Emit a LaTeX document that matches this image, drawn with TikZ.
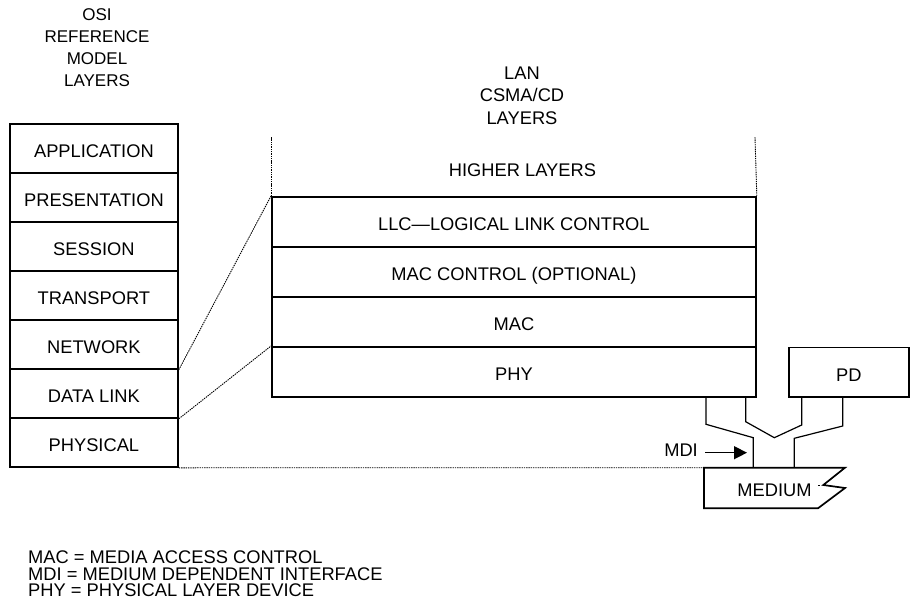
\documentclass[tikz,border=0pt]{standalone}
\usepackage{fontspec}
\setmainfont{Liberation Sans}
\usetikzlibrary{arrows.meta}

\begin{document}
\begin{tikzpicture}[x=1pt,y=-1pt,
  txt/.style={font=\fontsize{18.3}{22.6}\selectfont, inner sep=0pt},
  layerbox/.style={txt, draw, line width=1.8pt, anchor=north west,
    text height=18pt, text depth=0pt},
  osirow/.style={layerbox, minimum width=168pt, minimum height=49pt},
  lanrow/.style={layerbox, minimum width=484pt, minimum height=50pt},
  dotline/.style={line width=0.9pt, dash pattern=on 1.4pt off 0.9pt},
  cable/.style={line width=1.2pt, line join=miter},
  mdiarrow/.style={line width=1.4pt, -{Triangle[length=13pt,width=13pt]}}
]
\useasboundingbox (0,0) rectangle (911,610);

% --- OSI reference model column ---
\node[txt, font=\fontsize{17}{21.9}\selectfont, align=center, anchor=north]
  (osititle) at (97,8.5) {OSI\\REFERENCE\\MODEL\\LAYERS};
\node[osirow] (osi1) at (9,123) {APPLICATION};
\node[osirow] (osi2) at (9,172) {PRESENTATION};
\node[osirow] (osi3) at (9,221) {SESSION};
\node[osirow] (osi4) at (9,270) {TRANSPORT};
\node[osirow] (osi5) at (9,319) {NETWORK};
\node[osirow] (osi6) at (9,368) {DATA LINK};
\node[osirow] (osi7) at (9,417) {PHYSICAL};

% --- LAN CSMA/CD column ---
\node[txt, align=center, anchor=north] (lantitle) at (522,66.5) {LAN\\CSMA/CD\\LAYERS};
\node[txt, anchor=base] (higher) at (522.5,176.7) {HIGHER LAYERS};
\node[lanrow] (lan1) at (271,196) {LLC\textemdash LOGICAL LINK CONTROL};
\node[lanrow] (lan2) at (271,246) {MAC CONTROL (OPTIONAL)};
\node[lanrow] (lan3) at (271,296) {MAC};
\node[lanrow] (lan4) at (271,346) {PHY};

% open sides of the higher layers
\coordinate (hlleft) at (271,137);
\coordinate (hlright) at (755,137);
\draw[dotline] (lan1.north west) -- (hlleft);
\draw[dotline] (lan1.north east) -- (hlright);

% --- powered device ---
\node[layerbox, minimum width=120pt, minimum height=49.5pt] (pd) at (788,346.5) {PD};

% --- medium ---
\coordinate (medtl) at (704,467.7);
\coordinate (medtr) at (845,467.7);
\draw[line width=1.7pt, line join=miter] (medtl) -- (medtr) -- (823.3,485) -- (845,488)
  -- (818,508.3) -- (704,508.3) -- cycle;
\draw[line width=0.8pt] (818.3,485) -- (820,485);
\node[txt, anchor=base] (medium) at (774.5,496) {MEDIUM};

% --- cabling from the PHY and the PD down to the medium ---
\coordinate (ca1) at (706,396);
\coordinate (ca2) at (745.7,396);
\coordinate (cb1) at (801.7,396);
\coordinate (cb2) at (842.7,396);
\coordinate (ma) at (753.3,467.7);
\coordinate (mb) at (794.3,467.7);
\draw[cable] (ca1) -- (706,424.3) -- (753.3,437.7) -- (ma);
\draw[cable] (ca2) -- (745.7,421.7) -- (774.3,437.7) -- (801.7,425) -- (cb1);
\draw[cable] (cb2) -- (842.7,426) -- (794.3,438.3) -- (mb);

% --- MDI marker ---
\node[txt, anchor=base east] (mdi) at (698,456.7) {MDI};
\coordinate (mditip) at (747,452.7);
\draw[mdiarrow] ([shift={(7,-4)}]mdi.base east) -- (mditip);

% --- correspondence between the two columns ---
\draw[dotline] (osi5.south east) -- (lan1.north west);
\draw[dotline] (osi6.south east) -- (lan4.north west);
\draw[dotline] (osi7.south east) -- (medtl);

% --- abbreviations ---
\node[txt, anchor=base west] (abbr1) at (28,563.3) {MAC = MEDIA ACCESS CONTROL};
\node[txt, anchor=base west] (abbr2) at (28,580) {MDI = MEDIUM DEPENDENT INTERFACE};
\node[txt, anchor=base west] (abbr3) at (28,596.7) {PHY = PHYSICAL LAYER DEVICE};
\end{tikzpicture}
\end{document}
